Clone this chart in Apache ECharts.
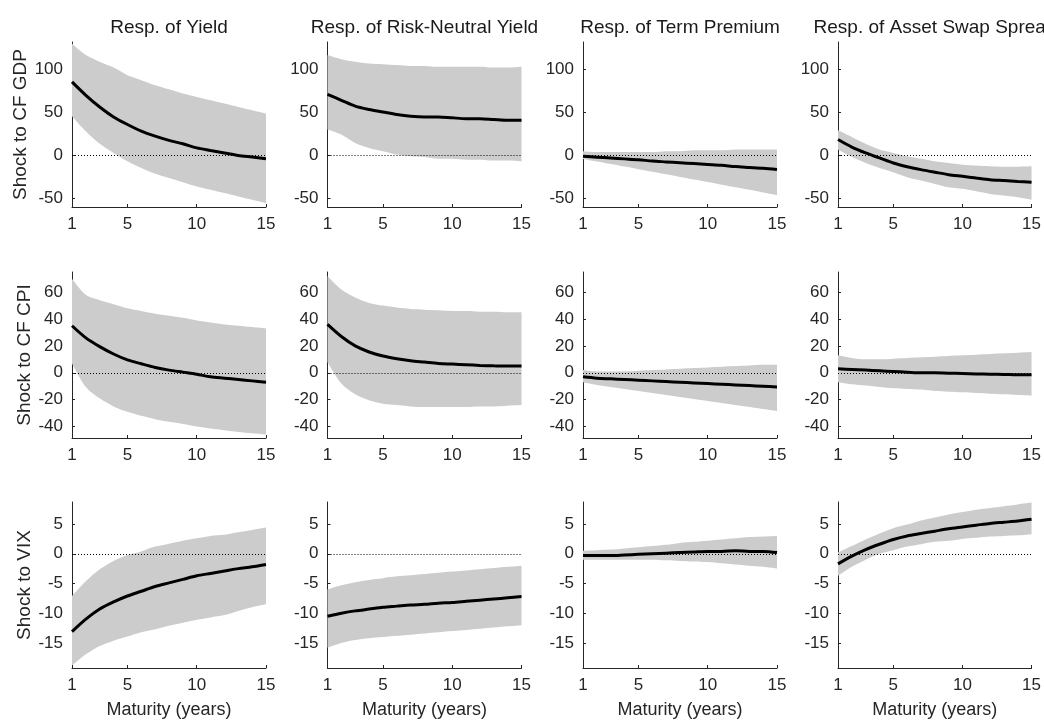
<!DOCTYPE html>
<html><head><meta charset="utf-8">
<script src="https://cdn.jsdelivr.net/npm/echarts@6/dist/echarts.min.js"></script>
<style>html,body{margin:0;padding:0;background:#fff}#c{width:1044px;height:725px}</style>
</head><body><div id="c"></div>
<script>
const maturities = [1,2,3,4,5,6,7,8,9,10,11,12,13,14,15];
const xTickValues = [1,5,10,15];
const columnTitles = ['Resp. of Yield','Resp. of Risk-Neutral Yield','Resp. of Term Premium','Resp. of Asset Swap Spread'];
const rowNames = ['Shock to CF GDP','Shock to CF CPI','Shock to VIX'];
const xAxisName = 'Maturity (years)';
const rowYTicks = [[-50,0,50,100],[-40,-20,0,20,40,60],[-15,-10,-5,0,5]];
const rowYRange = [[-60,132],[-48.5,75],[-19.2,8.7]];
const zeroLine = 0;

// Row 1: shock to CF GDP
const gdpYieldMean  = [85.6,70,56.4,44.8,36,28.2,22.4,17.5,13.6,8.8,5.8,2.9,0,-1.9,-3.9];
const gdpYieldUpper = [130.4,116.8,109,102.2,93.4,87.6,81.7,76.9,72,68.1,64.2,60.3,56.4,52.5,48.7];
const gdpYieldLower = [45.7,28.2,13.6,2.9,-6.8,-14.6,-21.4,-26.3,-31.1,-36,-39.9,-43.8,-47.7,-51.6,-55.5];
const gdpRnMean  = [71,64.2,57.4,53.5,50.6,47.7,45.7,44.8,44.8,43.8,42.8,42.8,41.8,40.9,40.9];
const gdpRnUpper = [116.8,111.9,109,107,106.1,105.1,104.1,104.1,103.1,103.1,103.1,103.1,102.2,102.2,103.1];
const gdpRnLower = [30.2,24.3,14.6,8.8,4.9,1,-1,-1.9,-3.9,-3.9,-4.9,-4.9,-5.8,-5.8,-6.8];
const gdpTpMean  = [-1,-2,-3,-4,-5,-6.5,-7.5,-8.5,-9.5,-10.5,-11.5,-13,-14,-15,-16.5];
const gdpTpUpper = [5,4,4,4,4,4,5,5,6,6,6,7,7,7,7];
const gdpTpLower = [-4,-7,-10,-13,-16,-19,-22,-25,-28,-31,-34,-37,-40,-43,-46];
const gdpAswMean  = [18.5,9.7,2.9,-2.9,-8.8,-13.1,-16.5,-19.5,-22.4,-24.3,-26.3,-28.2,-29.2,-30.2,-31.1];
const gdpAswUpper = [29.2,21.4,13.6,6.8,2.9,-1,-3.9,-6.8,-8.8,-10.7,-11.7,-12.6,-13.1,-13.1,-12.6];
const gdpAswLower = [6.8,-1.9,-8.8,-14.6,-19.5,-25.3,-29.2,-33.1,-37,-38.9,-41.8,-44.8,-46.7,-48.7,-51.6];

// Row 2: shock to CF CPI
const cpiYieldMean  = [35,26,19.5,14,9.6,6.7,4,2,0.5,-1,-3,-4,-5,-6,-7];
const cpiYieldUpper = [70,58,54,51,48,46,44,42.5,41,39,37.5,36,35,34,33];
const cpiYieldLower = [7,-10.5,-19,-25,-29,-32,-34.5,-36.5,-38,-40,-41.5,-42.7,-44,-45,-46];
const cpiRnMean  = [36,27,20,15.5,12.5,10.5,9,8,7,6.5,6,5.5,5.2,5,5];
const cpiRnUpper = [72,62,56,52,50,48.5,47.5,47,46.5,46,46,45.5,45.5,45,45];
const cpiRnLower = [8,-8,-16,-20.5,-23,-24,-25,-25.5,-25.5,-25.5,-25.5,-25,-25,-24.5,-24];
const cpiTpMean  = [-3,-4,-4.5,-5,-5.5,-6,-6.5,-7,-7.5,-8,-8.5,-9,-9.5,-10,-10.5];
const cpiTpUpper = [2,1,1,1,1.5,2,2.5,3,3.5,4,4.5,5,5.5,6,6];
const cpiTpLower = [-7,-9,-10.5,-12,-13.5,-15,-16.5,-18,-19.5,-21,-22.5,-24,-25.5,-27,-28.5];
const cpiAswMean  = [3,2.5,2,1.5,1,0.5,0,0,-0.3,-0.5,-0.8,-1,-1.2,-1.5,-1.5];
const cpiAswUpper = [13,11,10,10,10.5,11,11.5,12,12.5,13,13.5,14,14.5,15,15.5];
const cpiAswLower = [-7,-8.5,-9.5,-10.5,-11.5,-12,-12.5,-13.5,-14,-14.5,-15,-15.5,-16,-16.5,-17];

// Row 3: shock to VIX
const vixYieldMean  = [-13.1,-11,-9.3,-8.1,-7.1,-6.3,-5.5,-4.9,-4.3,-3.7,-3.3,-2.9,-2.5,-2.2,-1.8];
const vixYieldUpper = [-7.1,-4.6,-2.6,-1.2,-0.2,0.4,1.2,1.7,2.2,2.6,3,3.2,3.6,4,4.4];
const vixYieldLower = [-18.8,-16.9,-15.5,-14.6,-13.9,-13.2,-12.7,-12.1,-11.6,-11.1,-10.7,-10.3,-9.6,-9,-8.5];
const vixRnMean  = [-10.5,-10,-9.6,-9.3,-9,-8.8,-8.6,-8.5,-8.3,-8.2,-8,-7.8,-7.6,-7.4,-7.2];
const vixRnUpper = [-6,-5.3,-4.8,-4.4,-4.1,-3.8,-3.6,-3.4,-3.2,-3,-2.8,-2.6,-2.4,-2.2,-2];
const vixRnLower = [-15.8,-15,-14.5,-14.2,-14,-13.8,-13.6,-13.4,-13.2,-13,-12.8,-12.6,-12.4,-12.2,-12];
const vixTpMean  = [-0.3,-0.3,-0.3,-0.2,-0.1,0,0.1,0.2,0.3,0.4,0.4,0.5,0.4,0.4,0.2];
const vixTpUpper = [0.5,0.6,0.7,0.9,1.1,1.3,1.5,1.8,2,2.2,2.4,2.6,2.8,2.9,3];
const vixTpLower = [-1,-1,-1,-1,-1,-1,-1.1,-1.2,-1.3,-1.4,-1.6,-1.8,-2,-2.2,-2.5];
const vixAswMean  = [-1.7,-0.4,0.7,1.6,2.4,3,3.4,3.8,4.2,4.5,4.8,5.1,5.3,5.5,5.8];
const vixAswUpper = [0.2,1.3,2.4,3.4,4.3,4.9,5.6,6.1,6.6,7,7.4,7.7,8,8.3,8.6];
const vixAswLower = [-3.7,-2.2,-1,0,0.6,1.2,1.6,2,2.2,2.5,2.7,2.9,3,3.1,3.3];

const panels = [
  [[gdpYieldMean,gdpYieldLower,gdpYieldUpper],[gdpRnMean,gdpRnLower,gdpRnUpper],[gdpTpMean,gdpTpLower,gdpTpUpper],[gdpAswMean,gdpAswLower,gdpAswUpper]],
  [[cpiYieldMean,cpiYieldLower,cpiYieldUpper],[cpiRnMean,cpiRnLower,cpiRnUpper],[cpiTpMean,cpiTpLower,cpiTpUpper],[cpiAswMean,cpiAswLower,cpiAswUpper]],
  [[vixYieldMean,vixYieldLower,vixYieldUpper],[vixRnMean,vixRnLower,vixRnUpper],[vixTpMean,vixTpLower,vixTpUpper],[vixAswMean,vixAswLower,vixAswUpper]]
];

const FONT = "'Liberation Sans', Arial, sans-serif";
const TXT = '#262626';
const gridLefts = [72, 327.5, 583, 838];
const gridWidth = 194;
const gridTops = [42, 272, 502];
const gridHeights = [165, 166, 166];
const showTick = (i) => xTickValues.indexOf(maturities[i]) >= 0;

const grids = [], xAxes = [], yAxes = [], series = [], titles = [];
columnTitles.forEach((t, c) => {
  titles.push({
    text: t, left: gridLefts[c] + gridWidth / 2, top: 18, textAlign: 'center', padding: 0,
    textStyle: {fontFamily: FONT, fontSize: 19, fontWeight: 'normal', color: '#1a1a1a'}
  });
});
let idx = 0;
for (let r = 0; r < 3; r++) {
  for (let c = 0; c < 4; c++) {
    grids.push({left: gridLefts[c], top: gridTops[r], width: gridWidth, height: gridHeights[r], containLabel: false});
    xAxes.push({
      type: 'category', gridIndex: idx, data: maturities.map(String), boundaryGap: false, z: 5,
      name: r === 2 ? xAxisName : '', nameLocation: 'middle', nameGap: 33,
      nameTextStyle: {fontFamily: FONT, fontSize: 18, color: TXT},
      axisLine: {show: true, onZero: false, lineStyle: {color: TXT, width: 1}},
      axisTick: {show: true, inside: true, length: 3, interval: showTick, lineStyle: {color: TXT}},
      axisLabel: {show: true, interval: showTick, margin: 9, fontFamily: FONT, fontSize: 17, color: TXT},
      splitLine: {show: false}
    });
    yAxes.push({
      type: 'value', gridIndex: idx, min: rowYRange[r][0], max: rowYRange[r][1], z: 0,
      name: c === 0 ? rowNames[r] : '', nameLocation: 'middle', nameRotate: 90, nameGap: 35,
      nameTextStyle: {fontFamily: FONT, fontSize: 19, color: TXT},
      axisLine: {show: true, onZero: false, lineStyle: {color: TXT, width: 1}},
      axisTick: {show: true, inside: true, length: 3, customValues: rowYTicks[r], lineStyle: {color: TXT}},
      axisLabel: {show: true, customValues: rowYTicks[r], margin: 9, fontFamily: FONT, fontSize: 17, color: TXT},
      splitLine: {show: false}
    });
    const [mean, lower, upper] = panels[r][c];
    const stackId = 'band' + idx;
    series.push({
      type: 'line', xAxisIndex: idx, yAxisIndex: idx, stack: stackId, stackStrategy: 'all',
      data: lower.slice(), smooth: 0.3, symbol: 'none',
      lineStyle: {opacity: 0}, silent: true
    });
    series.push({
      type: 'line', xAxisIndex: idx, yAxisIndex: idx, stack: stackId, stackStrategy: 'all',
      data: upper.map((u, i) => u - lower[i]), smooth: 0.3, symbol: 'none',
      lineStyle: {opacity: 0}, areaStyle: {color: '#cccccc', opacity: 1}, silent: true
    });
    series.push({
      type: 'line', xAxisIndex: idx, yAxisIndex: idx,
      data: mean.slice(), smooth: 0.3, symbol: 'none',
      lineStyle: {color: '#000', width: 3}, silent: true,
      markLine: {
        silent: true, symbol: ['none', 'none'], label: {show: false},
        lineStyle: {color: '#000', width: 1, type: [1, 2]},
        data: [{yAxis: zeroLine}]
      }
    });
    idx++;
  }
}

const chart = echarts.init(document.getElementById('c'), null, {renderer: 'canvas'});
chart.setOption({
  animation: false, backgroundColor: '#fff',
  title: titles, grid: grids, xAxis: xAxes, yAxis: yAxes, series: series
});
</script></body></html>
